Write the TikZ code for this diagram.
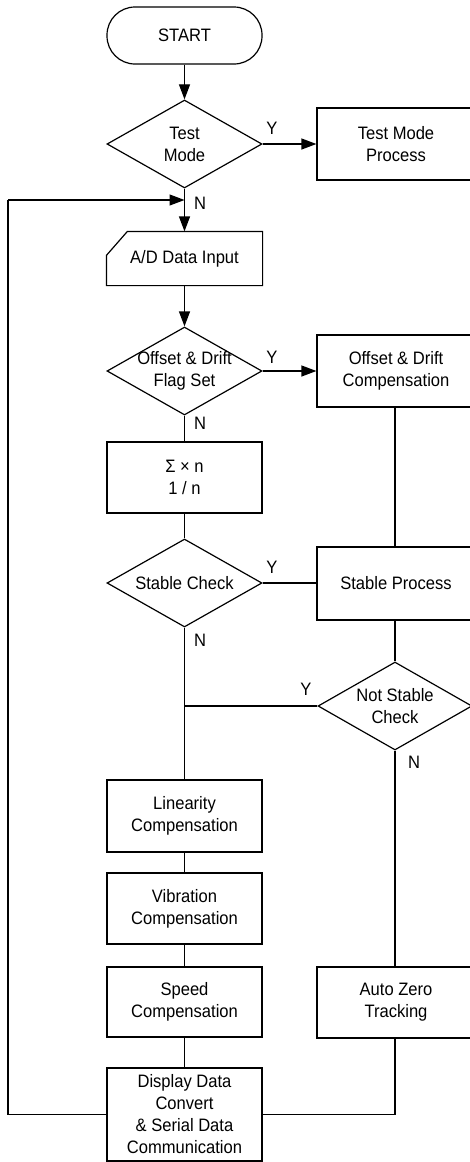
\documentclass[tikz,border=0pt]{standalone}
\usepackage{fontspec}
\setmainfont{Liberation Sans}[FakeStretch=0.92]
\usetikzlibrary{shapes.geometric,arrows.meta,calc}
\begin{document}
\begin{tikzpicture}[x=1pt,y=-1pt,
  every node/.style={font=\fontsize{18}{22}\selectfont, align=center, inner sep=0pt},
  line/.style={line width=1.2pt},
  arr/.style={line width=1.2pt, -{Triangle[length=15pt,width=11pt]}},
  stepbox/.style={draw, line width=1.2pt, minimum width=155pt},
  rbox/.style={draw, line width=1.2pt, minimum width=158pt},
  decide/.style={draw, diamond, line width=1.2pt, minimum width=155pt, minimum height=88pt},
  term/.style={draw, line width=1.2pt, rounded corners=28pt, minimum width=155pt, minimum height=57pt},
  lab/.style={font=\fontsize{18}{22}\selectfont}
]
\useasboundingbox (0,0) rectangle (470,1162);
\clip (0,0) rectangle (470,1162);

% main column
\node[term] (start) at (184.5,35.5) {START};
\node[decide] (test) at (184.5,144) {};
\node at (test) {Test\\Mode};
\node[stepbox, draw=none, minimum height=53pt] (ad) at (184.5,258.5) {A/D Data Input};
\draw[line] ($(ad.north west)+(21,0)$) -- (ad.north east) -- (ad.south east) -- (ad.south west) -- ($(ad.north west)+(0,24)$) -- cycle;
\node[decide] (off) at (184.5,371) {};
\node at (off) {Offset \& Drift\\Flag Set};
\node[stepbox, minimum height=71pt] (sig) at (184.5,477.5) {Σ × n\\1 / n};
\node[decide] (stab) at (184.5,583) {};
\node at (stab) {Stable Check};
\coordinate (j) at (184.5,706);
\node[stepbox, minimum height=72pt] (lin) at (184.5,816) {Linearity\\Compensation};
\node[stepbox, minimum height=71pt] (vib) at (184.5,908.5) {Vibration\\Compensation};
\node[stepbox, minimum height=70pt] (spd) at (184.5,1002) {Speed\\Compensation};
\node[stepbox, minimum height=93pt] (disp) at (184.5,1114.5) {Display Data\\Convert\\\& Serial Data\\Communication};

% right column
\node[rbox, minimum height=72pt] (tmp) at (396,144) {Test Mode\\Process};
\node[rbox, minimum height=72pt] (offc) at (396,371) {Offset \& Drift\\Compensation};
\node[rbox, minimum height=73pt] (stp) at (396,583.5) {Stable Process};
\node[decide, minimum width=154pt] (nsc) at (395,706) {};
\node at (nsc) {Not Stable\\Check};
\node[rbox, minimum height=71pt] (azt) at (396,1002.5) {Auto Zero\\Tracking};

% loop coordinates
\coordinate (lb) at (8,1114.5);
\coordinate (lt) at (8,200);
\coordinate (lm) at (184.5,200);

% connectors
\draw[arr] (start) -- (test);
\draw[arr] (test.east) -- (tmp.west);
\draw[arr] (test.south) -- (ad.north);
\draw[arr] (ad.south) -- (off.north);
\draw[arr] (off.east) -- (offc.west);
\draw[line] (off.south) -- (sig.north);
\draw[line] (sig.south) -- (stab.north);
\draw[line] (stab.east) -- (stp.west |- stab.east);
\draw[line] (offc.south -| 395,0) -- (stp.north -| 395,0);
\draw[line] (stp.south -| nsc.north) -- (nsc.north);
\draw[line] (stab.south) -- (j) -- (lin.north);
\draw[line] (nsc.west) -- (j);
\draw[line] (lin.south) -- (vib.north);
\draw[line] (vib.south) -- (spd.north);
\draw[line] (spd.south) -- (disp.north);
\draw[line] (nsc.south) -- (azt.north -| nsc.south);
\draw[line] (azt.south -| nsc.south) |- (disp.east);
\draw[line] (disp.west) -- (lb) -- (lt);
\draw[arr] (lt) -- (lm);

% labels
\node[lab] at (272,128) {Y};
\node[lab] at (200,203) {N};
\node[lab] at (272,357) {Y};
\node[lab] at (200,423) {N};
\node[lab] at (272,567) {Y};
\node[lab] at (200,640) {N};
\node[lab] at (306,689) {Y};
\node[lab] at (414,762) {N};
\end{tikzpicture}
\end{document}
